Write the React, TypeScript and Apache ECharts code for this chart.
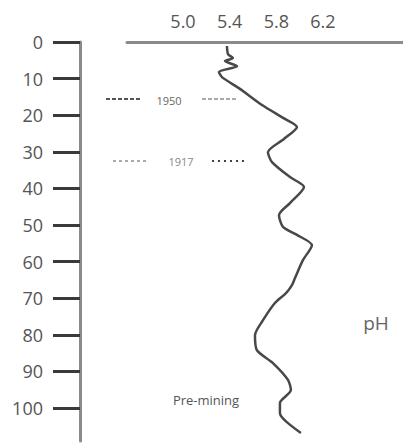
import React, { useEffect, useRef } from "react";
import * as echarts from "echarts";

const depthTicks = [0, 10, 20, 30, 40, 50, 60, 70, 80, 90, 100];
const phTicks = [5.0, 5.4, 5.8, 6.2];
const phValues = [
  5.377, 5.386, 5.428, 5.36, 5.463, 5.308, 5.334, 5.488, 5.677, 5.874, 5.977,
  5.865, 5.728, 5.763, 5.917, 6.037, 5.917, 5.823, 5.857, 5.977, 6.105, 6.028,
  5.96, 5.934, 5.883, 5.788, 5.686, 5.617, 5.634, 5.771, 5.9, 5.925, 5.831,
  5.831, 6.011,
];
const depthValues = [
  1.1, 3.3, 4.4, 5.2, 6.6, 8.2, 9.6, 12.8, 17.2, 21.0, 23.2, 26.5, 30.1, 32.8,
  36.9, 39.6, 44.0, 47.3, 50.5, 52.7, 55.5, 59.6, 64.5, 66.4, 68.6, 71.3, 76.0,
  80.1, 84.2, 87.7, 92.3, 95.1, 98.6, 101.4, 106.8,
];
const annotations = [
  { label: "1950", year: 1950 },
  { label: "1917", year: 1917 },
];
const preMiningLabel = "Pre-mining";
const unitLabel = "pH";

const FONT = "'Open Sans', 'Noto Sans', sans-serif";

export default function App() {
  const ref = useRef<HTMLDivElement>(null);
  useEffect(() => {
    if (!ref.current) return;
    const chart = echarts.init(ref.current, undefined, { renderer: "svg" });
    const data = phValues.map((v, i) => [v, depthValues[i]]);
    chart.setOption({
      animation: false,
      grid: { left: 127, right: 0, top: 42, bottom: 2 },
      xAxis: {
        type: "value",
        position: "top",
        min: 4.52,
        max: 6.886,
        axisLine: { show: true, lineStyle: { color: "#8a8a8a", width: 3 } },
        axisTick: { show: false },
        splitLine: { show: false },
        axisLabel: {
          customValues: phTicks,
          formatter: (v: number) => v.toFixed(1),
          color: "#555",
          fontSize: 18,
          fontFamily: FONT,
          margin: 12,
        },
      },
      yAxis: {
        type: "value",
        inverse: true,
        min: 0,
        max: 109,
        offset: 47,
        axisLine: { show: true, lineStyle: { color: "#8a8a8a", width: 3 } },
        axisTick: {
          show: true,
          customValues: depthTicks,
          length: 27,
          lineStyle: { color: "#3a3a3a", width: 3 },
        },
        splitLine: { show: false },
        axisLabel: {
          customValues: depthTicks,
          color: "#555",
          fontSize: 18,
          fontFamily: FONT,
          margin: 37,
        },
      },
      series: [
        {
          type: "line",
          data,
          showSymbol: false,
          smooth: 0.25,
          lineStyle: { color: "#484848", width: 2.5 },
        },
      ],
      graphic: [
        { type: "line", shape: { x1: 106, y1: 99, x2: 140, y2: 99 }, style: { stroke: "#555", lineWidth: 2, lineDash: [4, 2] } },
        { type: "text", x: 169, y: 100, style: { text: annotations[0].label, fontSize: 11, fill: "#666", fontFamily: FONT, align: "center", verticalAlign: "middle" } },
        { type: "line", shape: { x1: 202, y1: 99, x2: 237, y2: 99 }, style: { stroke: "#aaa", lineWidth: 2, lineDash: [4, 2] } },
        { type: "line", shape: { x1: 113, y1: 161, x2: 148, y2: 161 }, style: { stroke: "#aaa", lineWidth: 2, lineDash: [3, 3] } },
        { type: "text", x: 181, y: 161, style: { text: annotations[1].label, fontSize: 11, fill: "#888", fontFamily: FONT, align: "center", verticalAlign: "middle" } },
        { type: "line", shape: { x1: 212, y1: 161, x2: 247, y2: 161 }, style: { stroke: "#444", lineWidth: 2, lineDash: [2, 4] } },
        { type: "text", x: 206, y: 400, style: { text: preMiningLabel, fontSize: 13, fill: "#555", fontFamily: FONT, align: "center", verticalAlign: "middle" } },
        { type: "text", x: 376, y: 323, style: { text: unitLabel, fontSize: 19, fill: "#666", fontFamily: FONT, align: "center", verticalAlign: "middle" } },
      ],
    });
    return () => chart.dispose();
  }, []);
  return (
    <div
      ref={ref}
      style={{ position: "absolute", left: 0, top: 0, width: 403, height: 443 }}
    />
  );
}
